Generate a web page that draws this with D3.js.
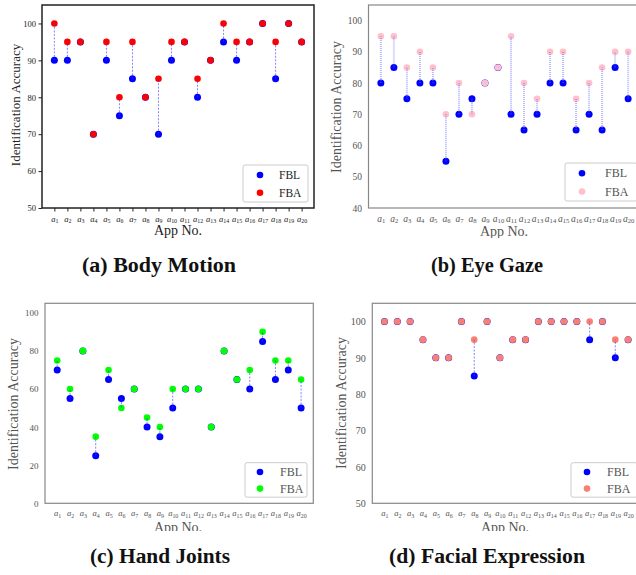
<!DOCTYPE html>
<html lang="en">
<head>
<meta charset="utf-8">
<title>Identification accuracy per app</title>
<style>
  body { margin: 0; background: #fff; }
  svg text { font-family: "Liberation Serif", "DejaVu Serif", serif; }
</style>
</head>
<body>
<svg id="chart" width="636" height="575"></svg>
<script src="https://cdn.jsdelivr.net/npm/d3@7"></script>
<script>
// ---- data ----
var apps = d3.range(1, 21);   // a1 .. a20

var bodyFBL = [90, 90, 95, 70, 90, 75, 85, 80, 70, 90, 95, 80, 90, 95, 90, 95, 100, 85, 100, 95];
var bodyFBA = [100, 95, 95, 70, 95, 80, 95, 80, 85, 95, 95, 85, 90, 100, 95, 95, 100, 95, 100, 95];

var eyeFBL = [80, 85, 75, 80, 80, 55, 70, 75, 80, 85, 70, 65, 70, 80, 80, 65, 70, 65, 85, 75];
var eyeFBA = [95, 95, 85, 90, 85, 70, 80, 70, 80, 85, 95, 80, 75, 90, 90, 75, 80, 85, 90, 90];

var handFBL = [70, 55, 80, 25, 65, 55, 60, 40, 35, 50, 60, 60, 40, 80, 65, 60, 85, 65, 70, 50];
var handFBA = [75, 60, 80, 35, 70, 50, 60, 45, 40, 60, 60, 60, 40, 80, 65, 70, 90, 75, 75, 65];

var faceFBL = [100, 100, 100, 95, 90, 90, 100, 85, 100, 90, 95, 95, 100, 100, 100, 100, 95, 100, 90, 95];
var faceFBA = [100, 100, 100, 95, 90, 90, 100, 95, 100, 90, 95, 95, 100, 100, 100, 100, 100, 100, 95, 95];

var ticks50 = [50, 60, 70, 80, 90, 100];
var ticks40 = [40, 50, 60, 70, 80, 90, 100];
var ticks0 = [0, 20, 40, 60, 80, 100];

var seriesNames = ["FBL", "FBA"];

// ---- panel settings ----
var panels = [
  { fbl: bodyFBL, fba: bodyFBA, yDomain: [50, 105], yTicks: ticks50, fbaColor: "#ff0000",
    left: 42, right: 314, top: 5, bottom: 208, clipBottom: 245,
    spine: "#222", spineW: 1.5, tickColor: "#222", showTicks: true, yFont: 8.5, xFont: 8.5,
    line: { color: "#3030ff", width: 0.8, dash: "2,1.5", opacity: 0.75 },
    ylabX: 15, ylabY: 105, ylabFont: 13, xlabX: 178, xlabY: 235, xlabFont: 14,
    leg: { x: 243, y: 165, w: 65, h: 37, mx: 260, tx: 279, font: 11.5 },
    caption: "(a) Body Motion", capX: 159, capY: 272, capW: 154 },
  { fbl: eyeFBL, fba: eyeFBA, yDomain: [40, 105], yTicks: ticks40, fbaColor: "#ffc0cb",
    left: 368.5, right: 640.5, top: 5, bottom: 208, clipBottom: 238,
    spine: "#888", spineW: 1.2, tickColor: "#555", showTicks: false, yFont: 9.5, xFont: 9.5,
    line: { color: "#6060ff", width: 2, dash: "1,1", opacity: 0.45 },
    ylabX: 336, ylabY: 107, ylabFont: 14, xlabX: 504, xlabY: 236, xlabFont: 14,
    leg: { x: 565, y: 163, w: 72, h: 38, mx: 582, tx: 605, font: 12 },
    caption: "(b) Eye Gaze", capX: 487, capY: 272, capW: 112 },
  { fbl: handFBL, fba: handFBA, yDomain: [0, 105], yTicks: ticks0, fbaColor: "#00ff00",
    left: 45, right: 313.3, top: 303.3, bottom: 503.3, clipBottom: 531,
    spine: "#888", spineW: 1.2, tickColor: "#555", showTicks: false, yFont: 9, xFont: 8.5,
    line: { color: "#3030ff", width: 0.8, dash: "2,1.5", opacity: 0.75 },
    ylabX: 13, ylabY: 404, ylabFont: 14, xlabX: 178, xlabY: 532, xlabFont: 14,
    leg: { x: 245, y: 462.7, w: 62, h: 34.5, mx: 260, tx: 280, font: 12 },
    caption: "(c) Hand Joints", capX: 160, capY: 563, capW: 140 },
  { fbl: faceFBL, fba: faceFBA, yDomain: [50, 105], yTicks: ticks50, fbaColor: "#fa8072",
    left: 372.3, right: 640.3, top: 303.3, bottom: 503.3, clipBottom: 531,
    spine: "#888", spineW: 1.2, tickColor: "#555", showTicks: false, yFont: 10, xFont: 8.5,
    line: { color: "#3030ff", width: 0.8, dash: "2,1.5", opacity: 0.75 },
    ylabX: 341, ylabY: 403, ylabFont: 14, xlabX: 505, xlabY: 532, xlabFont: 14,
    leg: { x: 571, y: 462.7, w: 66, h: 34.5, mx: 587, tx: 607, font: 12 },
    caption: "(d) Facial Expression", capX: 487, capY: 563, capW: 196 }
];

var svg = d3.select("#chart");
var defs = svg.append("defs");

panels.forEach(function(p, i) {
  var x = d3.scaleLinear().domain([0.05, 20.95]).range([p.left, p.right]);
  var y = d3.scaleLinear().domain(p.yDomain).range([p.bottom, p.top]);

  defs.append("clipPath").attr("id", "clip" + i)
    .append("rect")
      .attr("x", p.left - 60).attr("y", p.top - 5)
      .attr("width", p.right - p.left + 70)
      .attr("height", p.clipBottom - p.top + 5);

  var g = svg.append("g").attr("clip-path", "url(#clip" + i + ")");

  // y axis
  var yAxis = d3.axisLeft(y).tickValues(p.yTicks)
    .tickSize(p.showTicks ? 3.5 : 0).tickPadding(p.showTicks ? 2.5 : 6.5);
  var ya = g.append("g").attr("transform", "translate(" + p.left + ",0)").call(yAxis);
  ya.select(".domain").remove();
  ya.selectAll("line").attr("stroke", p.spine).attr("stroke-width", 1);
  ya.selectAll("text").attr("fill", p.tickColor)
    .style("font-size", p.yFont + "px").style("font-family", "Liberation Serif, serif");

  // x axis with a_i labels
  var xAxis = d3.axisBottom(x).tickValues(apps)
    .tickSize(p.showTicks ? 3.5 : 0).tickPadding(p.showTicks ? 4 : 7).tickFormat("");
  var xa = g.append("g").attr("transform", "translate(0," + p.bottom + ")").call(xAxis);
  xa.select(".domain").remove();
  xa.selectAll("line").attr("stroke", p.spine).attr("stroke-width", 1);
  xa.selectAll(".tick text").each(function(d) {
    var t = d3.select(this).text(null)
      .attr("fill", p.tickColor)
      .style("font-size", p.xFont + "px");
    t.append("tspan").style("font-style", "italic").text("a");
    t.append("tspan").attr("dy", "0.25em").style("font-size", (p.xFont * 0.7) + "px").text(d);
  });

  // frame
  g.append("rect")
    .attr("x", p.left).attr("y", p.top)
    .attr("width", p.right - p.left).attr("height", p.bottom - p.top)
    .attr("fill", "none").attr("stroke", p.spine).attr("stroke-width", p.spineW);

  // markers: FBL first, FBA over it
  var idx = d3.range(apps.length);
  g.selectAll(".fbl").data(idx).enter().append("circle")
    .attr("cx", function(k) { return x(apps[k]); })
    .attr("cy", function(k) { return y(p.fbl[k]); })
    .attr("r", 3.5).attr("fill", "#0000ff");
  g.selectAll(".fba").data(idx).enter().append("circle")
    .attr("cx", function(k) { return x(apps[k]); })
    .attr("cy", function(k) { return y(p.fba[k]); })
    .attr("r", 3.3).attr("fill", p.fbaColor);

  // connector between the two methods
  g.selectAll(".conn").data(idx).enter().append("line")
    .attr("x1", function(k) { return x(apps[k]); })
    .attr("x2", function(k) { return x(apps[k]); })
    .attr("y1", function(k) { return y(p.fbl[k]); })
    .attr("y2", function(k) { return y(p.fba[k]); })
    .attr("stroke", p.line.color).attr("stroke-width", p.line.width)
    .attr("stroke-dasharray", p.line.dash).attr("stroke-opacity", p.line.opacity);

  // axis titles
  g.append("text")
    .attr("transform", "translate(" + p.ylabX + "," + p.ylabY + ") rotate(-90)")
    .attr("text-anchor", "middle").attr("dy", "0.35em")
    .attr("fill", p.tickColor).style("font-size", p.ylabFont + "px")
    .text("Identification Accuracy");
  g.append("text")
    .attr("x", p.xlabX).attr("y", p.xlabY)
    .attr("text-anchor", "middle")
    .attr("fill", p.tickColor).style("font-size", p.xlabFont + "px")
    .text("App No.");

  // legend
  var L = p.leg;
  g.append("rect")
    .attr("x", L.x).attr("y", L.y).attr("width", L.w).attr("height", L.h)
    .attr("rx", 2).attr("fill", "#fff").attr("stroke", "#ccc").attr("stroke-width", 1);
  var legColors = ["#0000ff", p.fbaColor];
  seriesNames.forEach(function(name, j) {
    var cy = L.y + L.h * (j === 0 ? 0.27 : 0.75);
    g.append("circle").attr("cx", L.mx).attr("cy", cy).attr("r", 3.3).attr("fill", legColors[j]);
    g.append("text").attr("x", L.tx).attr("y", cy).attr("dy", "0.35em")
      .attr("fill", p.tickColor).style("font-size", L.font + "px").text(name);
  });

  // caption, stretched to the width it has in the figure
  svg.append("text")
    .attr("x", p.capX).attr("y", p.capY)
    .attr("text-anchor", "middle")
    .attr("textLength", p.capW).attr("lengthAdjust", "spacingAndGlyphs")
    .style("font-size", "20px").style("font-weight", "bold")
    .attr("fill", "#111")
    .text(p.caption);
});
</script>
</body>
</html>
